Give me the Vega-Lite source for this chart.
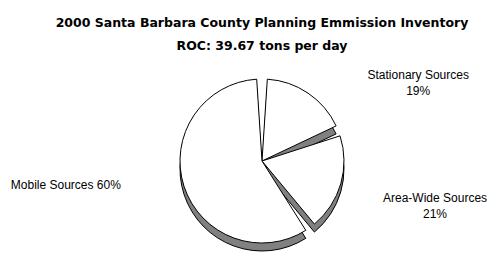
{
  "$schema": "https://vega.github.io/schema/vega-lite/v6.json",
  "width": 476,
  "height": 194,
  "autosize": "none",
  "padding": {"top": 64, "left": 24, "right": 0, "bottom": 0},
  "background": "white",
  "title": {
    "text": "2000 Santa Barbara County Planning Emmission Inventory",
    "subtitle": "ROC: 39.67 tons per day",
    "font": "DejaVu Sans",
    "fontSize": 12.5,
    "fontWeight": "bold",
    "color": "black",
    "subtitleFont": "DejaVu Sans",
    "subtitleFontSize": 12.5,
    "subtitleFontWeight": "bold",
    "subtitleColor": "black",
    "subtitlePadding": 10,
    "offset": 12,
    "anchor": "middle"
  },
  "data": {
    "values": [
      {"Source": "Stationary Sources", "Percent": 19, "Label": "Stationary Sources\n19%"},
      {"Source": "Area-Wide Sources", "Percent": 21, "Label": "Area-Wide Sources\n21%"},
      {"Source": "Mobile Sources", "Percent": 60, "Label": "Mobile Sources 60%"}
    ]
  },
  "encoding": {
    "theta": {"field": "Percent", "type": "quantitative", "stack": true, "scale": {"range": [1.1938, 7.4770]}},
    "order": {"field": "Source", "sort": "ascending"}
  },
  "layer": [
    {"mark": {"type": "arc", "radius": 82, "fill": "#808080", "stroke": "black", "strokeWidth": 1, "padAngle": 0.13, "yOffset": 8}},
    {"mark": {"type": "arc", "radius": 82, "fill": "white", "stroke": "black", "strokeWidth": 1, "padAngle": 0.13}},
    {
      "mark": {
        "type": "text",
        "radius": 100,
        "font": "Liberation Sans",
        "fontSize": 12,
        "lineHeight": 16,
        "lineBreak": "\n",
        "color": "black",
        "baseline": "middle",
        "align": {"expr": "datum.Source === 'Mobile Sources' ? 'right' : 'center'"},
        "dx": {"expr": "datum.Source === 'Stationary Sources' ? 100 : datum.Source === 'Area-Wide Sources' ? 77 : -46"},
        "dy": {"expr": "datum.Source === 'Stationary Sources' ? -3 : datum.Source === 'Area-Wide Sources' ? 9 : -7"}
      },
      "encoding": {"text": {"field": "Label"}}
    }
  ],
  "config": {"view": {"stroke": null}}
}
